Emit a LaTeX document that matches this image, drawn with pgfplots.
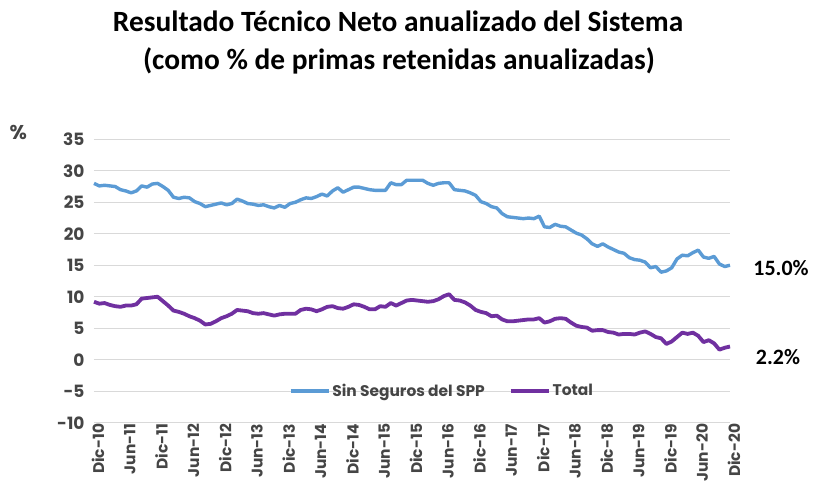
\documentclass[border=0pt]{standalone}
\usepackage{fontspec}
\setmainfont{Carlito}
\newfontfamily\tickfont{Poppins}
\usepackage{pgfplots}
\pgfplotsset{compat=1.18}
\definecolor{sinspp}{HTML}{5B9BD5}
\definecolor{total}{HTML}{7030A0}
\definecolor{txtgray}{HTML}{454545}
\definecolor{gridgray}{HTML}{D9D9D9}

% month index: 0 = Dic-10 ... 120 = Dic-20
\pgfplotstableread{
m v
0 28.0
1 27.6
2 27.7
3 27.6
4 27.5
5 27.0
6 26.8
7 26.5
8 26.8
9 27.6
10 27.4
11 27.9
12 28.0
13 27.5
14 26.9
15 25.8
16 25.6
17 25.8
18 25.7
19 25.1
20 24.8
21 24.3
22 24.5
23 24.7
24 24.9
25 24.6
26 24.8
27 25.5
28 25.2
29 24.8
30 24.7
31 24.5
32 24.6
33 24.3
34 24.1
35 24.5
36 24.2
37 24.8
38 25.0
39 25.4
40 25.7
41 25.6
42 25.9
43 26.3
44 26.0
45 26.8
46 27.3
47 26.6
48 27.0
49 27.4
50 27.4
51 27.2
52 27.0
53 26.9
54 26.9
55 26.9
56 28.1
57 27.8
58 27.8
59 28.5
60 28.5
61 28.5
62 28.5
63 28.0
64 27.7
65 28.0
66 28.1
67 28.1
68 27.0
69 26.9
70 26.8
71 26.5
72 26.1
73 25.1
74 24.8
75 24.3
76 24.1
77 23.2
78 22.7
79 22.6
80 22.5
81 22.4
82 22.5
83 22.4
84 22.8
85 21.1
86 21.0
87 21.5
88 21.2
89 21.1
90 20.6
91 20.1
92 19.8
93 19.2
94 18.4
95 18.0
96 18.4
97 17.9
98 17.5
99 17.1
100 16.9
101 16.2
102 15.9
103 15.8
104 15.5
105 14.6
106 14.8
107 13.9
108 14.1
109 14.6
110 16.0
111 16.6
112 16.5
113 17.0
114 17.4
115 16.3
116 16.1
117 16.4
118 15.2
119 14.8
120 15.0
}\sinspp

\pgfplotstableread{
m v
0 9.2
1 8.9
2 9.0
3 8.7
4 8.5
5 8.4
6 8.6
7 8.6
8 8.8
9 9.7
10 9.8
11 9.9
12 10.0
13 9.3
14 8.6
15 7.8
16 7.6
17 7.3
18 6.9
19 6.6
20 6.2
21 5.6
22 5.7
23 6.1
24 6.6
25 6.9
26 7.3
27 7.9
28 7.8
29 7.7
30 7.4
31 7.3
32 7.4
33 7.2
34 7.0
35 7.2
36 7.3
37 7.3
38 7.3
39 7.9
40 8.1
41 8.0
42 7.7
43 8.0
44 8.4
45 8.5
46 8.2
47 8.1
48 8.4
49 8.8
50 8.7
51 8.4
52 8.0
53 8.0
54 8.5
55 8.4
56 9.0
57 8.6
58 9.0
59 9.4
60 9.5
61 9.4
62 9.3
63 9.2
64 9.3
65 9.6
66 10.1
67 10.4
68 9.5
69 9.4
70 9.1
71 8.6
72 7.9
73 7.6
74 7.4
75 6.9
76 7.0
77 6.4
78 6.1
79 6.1
80 6.2
81 6.3
82 6.4
83 6.4
84 6.6
85 5.9
86 6.1
87 6.5
88 6.6
89 6.5
90 5.9
91 5.4
92 5.2
93 5.1
94 4.6
95 4.7
96 4.7
97 4.4
98 4.3
99 4.0
100 4.1
101 4.1
102 4.0
103 4.3
104 4.5
105 4.1
106 3.6
107 3.4
108 2.5
109 2.9
110 3.6
111 4.3
112 4.1
113 4.3
114 3.8
115 2.8
116 3.1
117 2.6
118 1.6
119 1.9
120 2.1
}\total

\begin{document}
\begin{tikzpicture}
\begin{axis}[
    name=ax,
    scale only axis,
    width=636bp, height=283.4bp,
    xmin=0, xmax=120,
    ymin=-10, ymax=35,
    ytick={-10,-5,...,35},
    yticklabels={{\mbox{-10}},{\mbox{-5}},0,5,10,15,20,25,30,35},
    xtick={0,6,...,120},
    xticklabels={Dic-10,Jun-11,Dic-11,Jun-12,Dic-12,Jun-13,Dic-13,Jun-14,Dic-14,Jun-15,Dic-15,Jun-16,Dic-16,Jun-17,Dic-17,Jun-18,Dic-18,Jun-19,Dic-19,Jun-20,Dic-20},
    axis line style={draw=none},
    tick style={draw=none},
    ymajorgrids,
    grid style={gridgray, line width=1.2bp},
    tick label style={font=\tickfont\bfseries\fontsize{17}{17}\selectfont, text=txtgray},
    yticklabel style={xshift=-6bp},
    xticklabel style={font=\tickfont\bfseries\fontsize{15.5}{15.5}\selectfont,
        rotate=90, anchor=east, yshift=-4bp, inner sep=1bp},
    clip=false,
    legend columns=2,
    legend style={at={(0.547,0.112)}, anchor=center, draw=none, fill=none,
        font=\tickfont\bfseries\fontsize{15.5}{15.5}\selectfont, text=txtgray,
        /tikz/every even column/.append style={column sep=22bp}},
    legend image code/.code={\draw[#1] (0bp,0bp) -- (38bp,0bp);},
]
\addplot[sinspp, line width=3.4bp, line join=round] table[x=m, y=v] {\sinspp};
\addlegendentry{Sin Seguros del SPP}
\addplot[total, line width=3.8bp, line join=round] table[x=m, y=v] {\total};
\addlegendentry{Total}

\node[font=\bfseries\fontsize{22}{22}\selectfont, anchor=center] at (axis cs:120,14.5) [xshift=51bp] {15.0\%};
\node[font=\bfseries\fontsize{22}{22}\selectfont, anchor=center] at (axis cs:120,0.5) [xshift=48bp] {2.2\%};
\node[font=\tickfont\bfseries\fontsize{20}{20}\selectfont, text=txtgray] at (axis cs:-14.3,36.1) {\%};
\end{axis}
\node[font=\bfseries\fontsize{29.5}{29.5}\selectfont] at ([shift={(304bp,401bp)}]ax.south west) {Resultado Técnico Neto anualizado del Sistema};
\node[font=\bfseries\fontsize{29.5}{29.5}\selectfont] at ([shift={(305bp,362bp)}]ax.south west) {(como \% de primas retenidas anualizadas)};
\pgfresetboundingbox
\path ([shift={(-94bp,-62.3bp)}]ax.south west) rectangle ([shift={(721bp,422.7bp)}]ax.south west);
\end{tikzpicture}
\end{document}
